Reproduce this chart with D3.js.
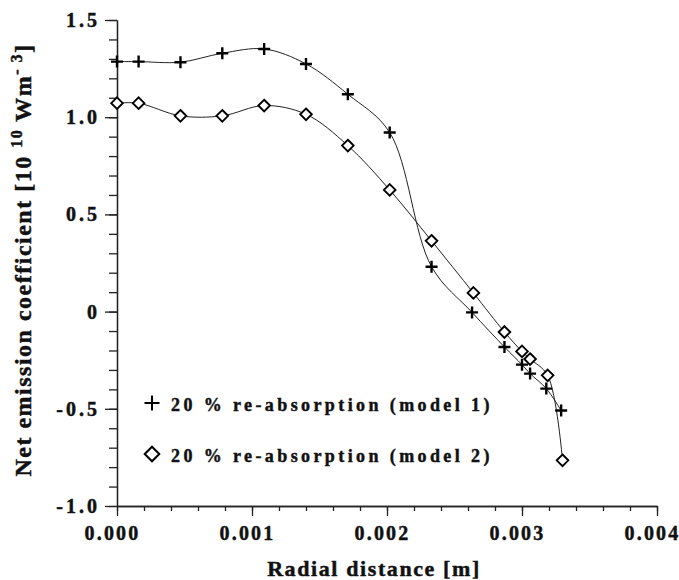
<!DOCTYPE html>
<html>
<head>
<meta charset="utf-8">
<script src="https://cdn.jsdelivr.net/npm/d3@7"></script>
<style>
  body { margin: 0; background: #fff; }
  svg, svg text { font-family: "Liberation Serif", "DejaVu Serif", serif !important; font-weight: bold; }
  text { fill: #111; stroke: #111; stroke-width: 0.45px; }
</style>
</head>
<body>
<div id="chart"></div>
<script>
// Data
const xModel1 = [0, 0.00016, 0.00047, 0.00078, 0.00109, 0.0014, 0.00171, 0.00202, 0.00233, 0.00263, 0.00287, 0.003, 0.00306, 0.00318, 0.00329]
const yModel1 = [1.286, 1.286, 1.283, 1.329, 1.351, 1.274, 1.118, 0.921, 0.231, -0.004, -0.182, -0.273, -0.319, -0.396, -0.509]
const xModel2 = [0, 0.00016, 0.00047, 0.00078, 0.00109, 0.0014, 0.00171, 0.00202, 0.00233, 0.00264, 0.00287, 0.003, 0.00306, 0.00319, 0.0033]
const yModel2 = [1.072, 1.072, 1.007, 1.007, 1.060, 1.015, 0.854, 0.626, 0.364, 0.096, -0.105, -0.205, -0.244, -0.328, -0.765]

const xMajor = [0, 0.001, 0.002, 0.003, 0.004]
const xMinor = d3.range(0, 0.00401, 0.0002)
const yMajor = [-1, -0.5, 0, 0.5, 1, 1.5]
const yMajorLabels = ["-1.0", "-0.5", "0", "0.5", "1.0", "1.5"]
const yMinor = d3.range(-1, 1.501, 0.1)

const legendLabels = ["20 % re-absorption (model 1)", "20 % re-absorption (model 2)"]

const serif = "Liberation Serif, DejaVu Serif, serif"

// Constantes:
const width = 679
const height = 580
const margins = { top: 20, bottom: 74, left: 117, right: 22 }

const svg = d3.select("#chart").append("svg").attr("width", width).attr("height", height)
  .attr("font-family", serif).attr("font-weight", "bold")

const x = d3.scaleLinear().domain([0, 0.004]).range([margins.left, width - margins.right])
const y = d3.scaleLinear().domain([-1, 1.5]).range([height - margins.bottom, margins.top])

// Ejes
svg.append("g").attr("transform", `translate(0,${y(-1)})`)
  .call(d3.axisBottom(x).tickValues(xMinor).tickSize(5).tickSizeOuter(0).tickFormat(""))
const gx = svg.append("g").attr("transform", `translate(0,${y(-1)})`)
  .call(d3.axisBottom(x).tickValues(xMajor).tickSize(10).tickSizeOuter(0).tickPadding(10)
    .tickFormat(d3.format(".3f")))
gx.selectAll("text").attr("font-size", 20).attr("letter-spacing", 2.2).attr("x", -5)

svg.append("g").attr("transform", `translate(${x(0)},0)`)
  .call(d3.axisLeft(y).tickValues(yMinor).tickSize(8).tickSizeOuter(0).tickFormat(""))
const gy = svg.append("g").attr("transform", `translate(${x(0)},0)`)
  .call(d3.axisLeft(y).tickValues(yMajor).tickSize(12).tickSizeOuter(0).tickPadding(5)
    .tickFormat((d, i) => yMajorLabels[i]))
gy.selectAll("text").attr("font-size", 20).attr("letter-spacing", 3)

svg.selectAll("g").attr("font-family", serif).attr("font-weight", "bold")
svg.selectAll(".domain, .tick line").attr("stroke", "#222").attr("stroke-width", 1.3)

// Titulos
svg.append("text")
  .attr("x", 374).attr("y", 576)
  .attr("text-anchor", "middle")
  .attr("font-size", 22).attr("letter-spacing", 1.6)
  .text("Radial distance [m]")

const yTitle = svg.append("text")
  .attr("transform", "translate(31,260) rotate(-90)")
  .attr("text-anchor", "middle")
  .attr("font-size", 24).attr("letter-spacing", 1.5)
yTitle.append("tspan").text("Net emission coefficient [10 ")
yTitle.append("tspan").attr("font-size", 16).attr("dy", -9).text("10")
yTitle.append("tspan").attr("dy", 9).text(" Wm")
yTitle.append("tspan").attr("font-size", 16).attr("dy", -9).text("- 3")
yTitle.append("tspan").attr("dy", 9).text("]")

// Curvas
const curve = d3.line().x(d => x(d[0])).y(d => y(d[1])).curve(d3.curveCatmullRom.alpha(0.5))
const series1 = xModel1.map((v, i) => [v, yModel1[i]])
const series2 = xModel2.map((v, i) => [v, yModel2[i]])

svg.append("path").datum(series1).attr("d", curve)
  .attr("fill", "none").attr("stroke", "#222").attr("stroke-width", 1)
svg.append("path").datum(series2).attr("d", curve)
  .attr("fill", "none").attr("stroke", "#222").attr("stroke-width", 1)

const plusPath = r => `M${-r},0H${r}M0,${-r}V${r}`
const diamondPath = r => `M0,${-r}L${r},0L0,${r}L${-r},0Z`

svg.append("g").selectAll("path").data(series1).enter().append("path")
  .attr("transform", d => `translate(${x(d[0])},${y(d[1])})`)
  .attr("d", plusPath(6))
  .attr("stroke", "#000").attr("stroke-width", 2.4).attr("fill", "none")

svg.append("g").selectAll("path").data(series2).enter().append("path")
  .attr("transform", d => `translate(${x(d[0])},${y(d[1])})`)
  .attr("d", diamondPath(5.8))
  .attr("stroke", "#000").attr("stroke-width", 1.9).attr("fill", "#fff")

// Leyenda
const legend = svg.append("g")
legend.append("path").attr("transform", "translate(152,403)").attr("d", plusPath(7.5))
  .attr("stroke", "#000").attr("stroke-width", 2).attr("fill", "none")
legend.append("path").attr("transform", "translate(152,454)").attr("d", diamondPath(7.3))
  .attr("stroke", "#000").attr("stroke-width", 2).attr("fill", "#fff")
legend.selectAll("text").data(legendLabels).enter().append("text")
  .attr("x", 171).attr("y", (d, i) => 411 + i * 51)
  .attr("font-size", 18).attr("letter-spacing", 3.4)
  .text(d => d)
</script>
</body>
</html>
